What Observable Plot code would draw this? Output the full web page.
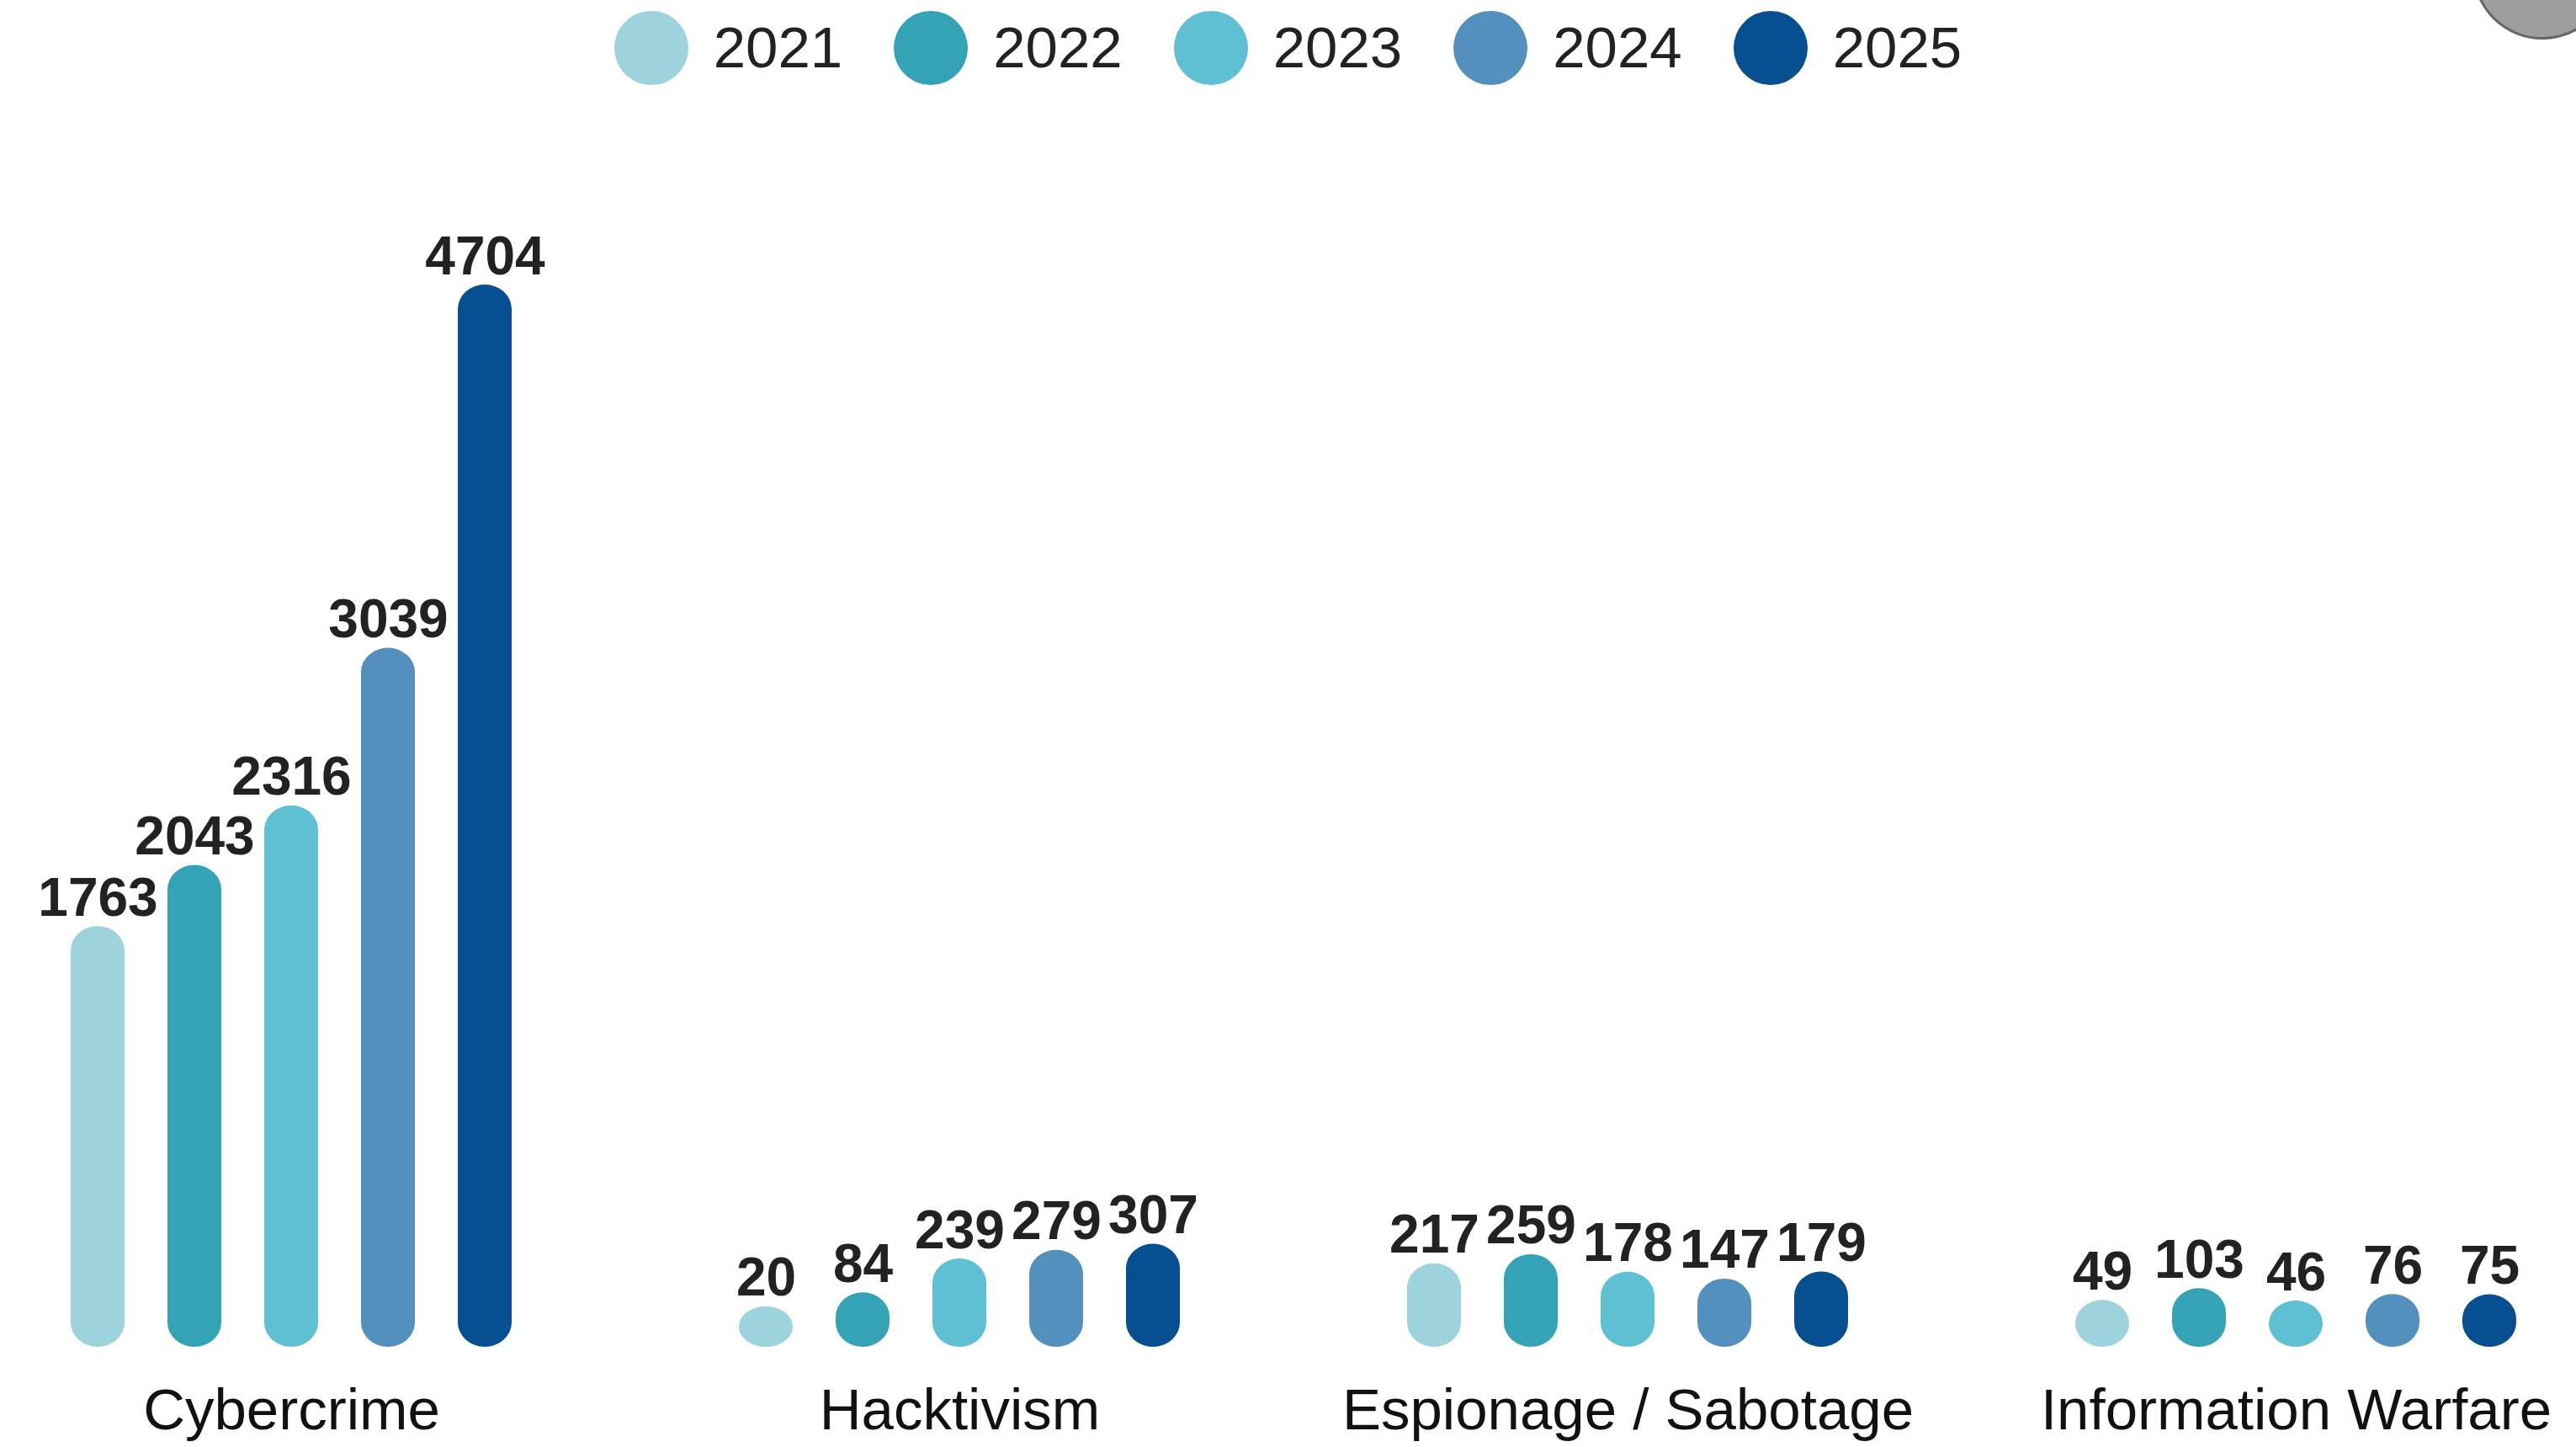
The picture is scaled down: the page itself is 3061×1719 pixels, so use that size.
<!DOCTYPE html>
<html>
<head>
<meta charset="utf-8">
<script src="https://cdn.jsdelivr.net/npm/d3@7"></script>
<script src="https://cdn.jsdelivr.net/npm/@observablehq/plot@0.6"></script>
<style>
  html, body { margin: 0; padding: 0; background: #fff; overflow: hidden; }
  body { width: 3061px; height: 1719px; position: relative; font-family: "Liberation Sans", Arial, sans-serif; }
  #legend { height: 113px; display: flex; justify-content: center; align-items: center; gap: 61px; }
  .item { display: flex; align-items: center; gap: 30px; font-size: 69px; color: #222; }
  .sw { width: 88px; height: 88px; border-radius: 50%; display: inline-block; }
  #icon { position: absolute; left: 2938px; top: -119px; width: 160px; height: 160px; border-radius: 50%;
          background: #9e9e9e; border: 3px solid #666; }
  #chart svg { display: block; }
</style>
</head>
<body>
<div id="legend"></div>
<div id="chart"></div>
<div id="icon"></div>
<script>
const categories = ["Cybercrime", "Hacktivism", "Espionage / Sabotage", "Information Warfare"];
const years = ["2021", "2022", "2023", "2024", "2025"];
const cybercrime = [1763, 2043, 2316, 3039, 4704];
const hacktivism = [20, 84, 239, 279, 307];
const espionage = [217, 259, 178, 147, 179];
const infoWarfare = [49, 103, 46, 76, 75];
const colors = ["#9dd3dc", "#35a3b6", "#5ec0d2", "#5390bd", "#064f91"];

const series = [cybercrime, hacktivism, espionage, infoWarfare];
const data = [];
categories.forEach((c, i) => years.forEach((y, j) => data.push({category: c, year: y, value: series[i][j]})));
const maxValue = d3.max(data, d => d.value);

// legend
const legend = document.getElementById("legend");
years.forEach((y, j) => {
  const item = document.createElement("div");
  item.className = "item";
  const sw = document.createElement("span");
  sw.className = "sw";
  sw.style.background = colors[j];
  const t = document.createElement("span");
  t.textContent = y;
  item.appendChild(sw);
  item.appendChild(t);
  legend.appendChild(item);
});

const chart = Plot.plot({
  width: 3061,
  height: 1606,
  marginLeft: 12,
  marginRight: 0,
  marginTop: 268,
  marginBottom: 119,
  style: {fontFamily: "Liberation Sans, Arial, sans-serif", background: "#fff"},
  fx: {domain: categories, paddingInner: 0.192, paddingOuter: 0.016, axis: null, label: null},
  x: {domain: years, paddingInner: 0.446, paddingOuter: 0.5, axis: null, label: null},
  y: {domain: [0, maxValue], axis: null, label: null},
  color: {domain: years, range: colors},
  marks: [
    Plot.barY(data, {fx: "category", x: "year", y: "value", fill: "year", rx: 32, ry: 29, insetTop: -43}),
    Plot.text(data, {fx: "category", x: "year", y: "value", text: d => String(d.value), dy: -56,
      lineAnchor: "bottom", fontSize: 64, fontWeight: "bold", fill: "#222"}),
    Plot.text(categories, {fx: d => d, text: d => d, frameAnchor: "bottom", dy: 97,
      lineAnchor: "bottom", fontSize: 69, fill: "#111"})
  ]
});
document.getElementById("chart").appendChild(chart);
</script>
</body>
</html>
